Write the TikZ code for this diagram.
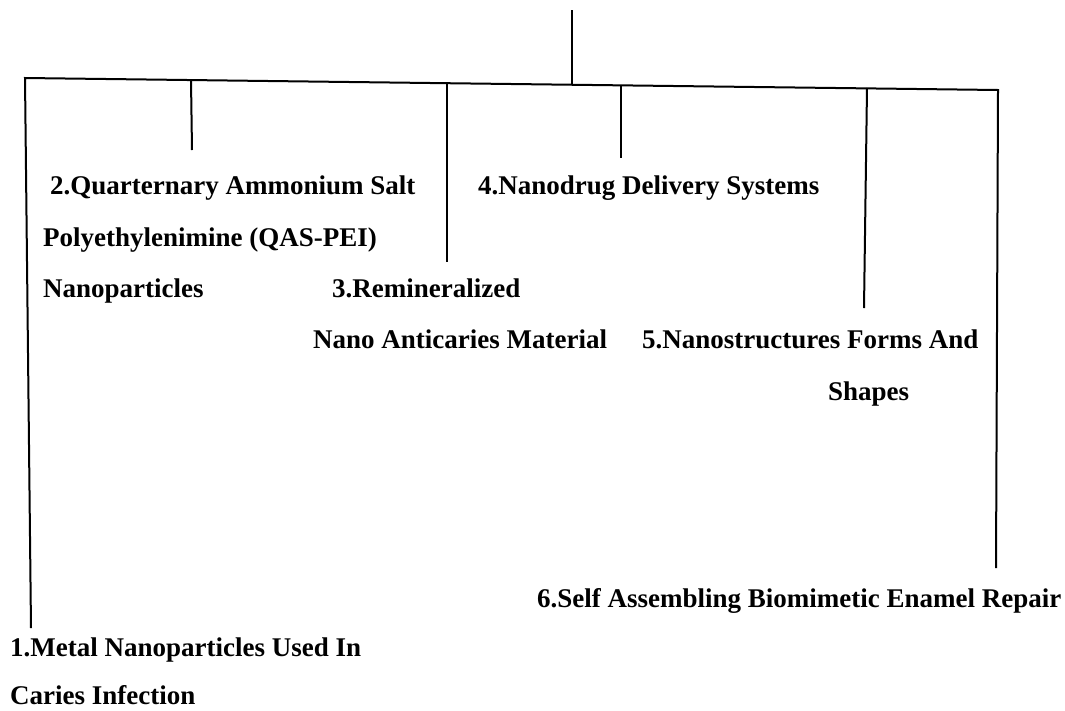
\documentclass[tikz,border=0pt]{standalone}
\usepackage{fontspec}
\setmainfont{Liberation Serif}
\usetikzlibrary{positioning,calc}
\tikzset{
  item/.style   = {font=\bfseries\fontsize{27}{32}\selectfont, inner sep=0pt, anchor=base west},
  branch/.style = {line width=2pt, black, line join=miter}
}

\begin{document}
\begin{tikzpicture}[x=1pt,y=-1pt]
\useasboundingbox (0,0) rectangle (1065,710);

% topics
\node[item] (metal) at (10,656) {1.Metal Nanoparticles Used In};
\node[item] (metal_b) at (10,704) {Caries Infection};
\node[item] (quat) at (50,194) {2.Quarternary Ammonium Salt};
\node[item] (quat_b) at (43,246) {Polyethylenimine (QAS-PEI)};
\node[item] (quat_c) at (43,297) {Nanoparticles};
\node[item] (remin) at (332,297) {3.Remineralized};
\node[item] (remin_b) at (313,348) {Nano Anticaries Material};
\node[item] (drug) at (478,194) {4.Nanodrug Delivery Systems};
\node[item] (forms) at (642,348) {5.Nanostructures Forms And};
\node[item] (forms_b) at (828,400) {Shapes};
\node[item] (enamel) at (537,607) {6.Self Assembling Biomimetic Enamel Repair};

% tree lines
\coordinate (root) at (572,10);
\coordinate (root_bar) at (572,84);
\coordinate (bar_west) at (25,78);
\coordinate (bar_east) at (998,90);
\coordinate (metal_top) at (31,628);
\coordinate (enamel_top) at (996,568);
\coordinate (quat_bar) at (191,80);
\coordinate (quat_top) at (192,150);
\coordinate (remin_bar) at (447,83);
\coordinate (remin_top) at (447,262);
\coordinate (drug_bar) at (621,85);
\coordinate (drug_top) at (621,158);
\coordinate (forms_bar) at (867,88);
\coordinate (forms_top) at (864,308);

\draw[branch] (root) -- (root_bar);
\draw[branch] (metal_top) -- (bar_west) -- (bar_east) -- (enamel_top);
\draw[branch] (quat_bar) -- (quat_top);
\draw[branch] (remin_bar) -- (remin_top);
\draw[branch] (drug_bar) -- (drug_top);
\draw[branch] (forms_bar) -- (forms_top);
\end{tikzpicture}
\end{document}
